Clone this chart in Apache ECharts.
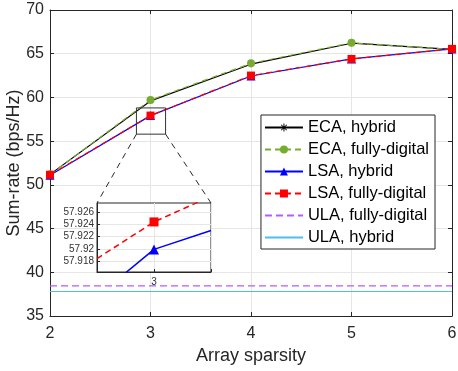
<!DOCTYPE html>
<html>
<head>
<meta charset="utf-8">
<script src="https://cdn.jsdelivr.net/npm/echarts@6/dist/echarts.min.js"></script>
<style>
  html, body { margin: 0; padding: 0; background: #fff; }
  #chart { width: 458px; height: 371px; }
</style>
</head>
<body>
<div id="chart"></div>
<script>
// main plot data
const sparsity = [2, 3, 4, 5, 6];
const ecaHybrid = [51.2, 59.6, 63.8, 66.2, 65.5];
const ecaFully = [51.2, 59.7, 63.9, 66.25, 65.5];
const lsaHybrid = [51.1, 57.92, 62.45, 64.4, 65.55];
const lsaFully = [51.15, 57.924, 62.5, 64.4, 65.55];
const ulaFully = [38.45, 38.45, 38.45, 38.45, 38.45];
const ulaHybrid = [37.8, 37.8, 37.8, 37.8, 37.8];

// inset (zoom around sparsity = 3)
const insetX = [2.999, 3, 3.001];
const insetLsaHybrid = [57.9122, 57.9199, 57.9230];
const insetLsaFully = [57.9184, 57.9244, 57.9286];
const insetTicks = [57.918, 57.92, 57.922, 57.924, 57.926];

// zoom rectangle drawn on main plot (data space)
const zoomBox = { x: [2.86, 3.15], y: [55.8, 58.8] };

const font = 'Liberation Sans';
const txt = '#262626';
const asterisk = 'path://M4.4,0H5.6V3.6L8.1,1.1L8.9,1.9L6.4,4.4H10V5.6H6.4L8.9,8.1L8.1,8.9L5.6,6.4V10H4.4V6.4L1.9,8.9L1.1,8.1L3.6,5.6H0V4.4H3.6L1.1,1.9L1.9,1.1L4.4,3.6Z';

const pairs = (xs, ys) => xs.map((x, i) => [x, ys[i]]);

const chart = echarts.init(document.getElementById('chart'), null, { renderer: 'canvas' });

const insetGrid = { left: 97, top: 203, width: 114, height: 69 };

const option = {
  animation: false,
  textStyle: { fontFamily: font },
  grid: [
    { left: 50, right: 6, top: 10, bottom: 55, show: false, outerBoundsMode: 'none' },
    { left: insetGrid.left, top: insetGrid.top, width: insetGrid.width, height: insetGrid.height,
      show: true, backgroundColor: '#fff', borderColor: '#262626', borderWidth: 1, z: 10, outerBoundsMode: 'none' }
  ],
  xAxis: [
    { type: 'value', gridIndex: 0, min: 2, max: 6, interval: 1,
      name: 'Array sparsity', nameLocation: 'middle', nameGap: 31, nameMoveOverlap: false,
      nameTextStyle: { fontSize: 18, color: txt, fontFamily: font },
      axisLine: { show: true, lineStyle: { color: '#262626' } },
      axisTick: { inside: true, length: 4, lineStyle: { color: '#262626' } },
      axisLabel: { fontSize: 16, color: txt, margin: 10, fontFamily: font },
      splitLine: { show: true, lineStyle: { color: '#e6e6e6' } } },
    { type: 'value', gridIndex: 0, position: 'top', min: 2, max: 6, interval: 1,
      axisLine: { show: true, lineStyle: { color: '#262626' } },
      axisTick: { inside: true, length: 4, lineStyle: { color: '#262626' } },
      axisLabel: { show: false }, splitLine: { show: false } },
    { type: 'value', gridIndex: 1, min: 2.999, max: 3.001, interval: 0.001, z: 10,
      axisLine: { show: true, onZero: false, lineStyle: { color: '#262626' } },
      axisTick: { inside: true, length: 3, lineStyle: { color: '#262626' } },
      axisLabel: { fontSize: 10, color: '#333', margin: 5, fontFamily: font,
        formatter: v => (Math.abs(v - 3) < 1e-9 ? '3' : '') },
      splitLine: { show: true, lineStyle: { color: '#e6e6e6' } } }
  ],
  yAxis: [
    { type: 'value', gridIndex: 0, min: 35, max: 70, interval: 5,
      name: 'Sum-rate (bps/Hz)', nameLocation: 'middle', nameGap: 27, nameMoveOverlap: false,
      nameTextStyle: { fontSize: 18, color: txt, fontFamily: font },
      axisLine: { show: true, lineStyle: { color: '#262626' } },
      axisTick: { inside: true, length: 4, lineStyle: { color: '#262626' } },
      axisLabel: { fontSize: 16, color: txt, margin: 6, fontFamily: font },
      splitLine: { show: true, lineStyle: { color: '#e6e6e6' } } },
    { type: 'value', gridIndex: 0, position: 'right', min: 35, max: 70, interval: 5,
      axisLine: { show: true, lineStyle: { color: '#262626' } },
      axisTick: { inside: true, length: 4, lineStyle: { color: '#262626' } },
      axisLabel: { show: false }, splitLine: { show: false } },
    { type: 'value', gridIndex: 1, min: 57.9162, max: 57.9275, z: 10,
      axisLine: { show: true, onZero: false, lineStyle: { color: '#262626' } },
      axisTick: { inside: true, length: 3, customValues: insetTicks, lineStyle: { color: '#262626' } },
      axisLabel: { fontSize: 10, color: '#333', margin: 3, fontFamily: font,
        customValues: insetTicks, formatter: v => String(+v.toFixed(3)) },
      splitLine: { show: true, lineStyle: { color: '#e6e6e6' } } }
  ],
  legend: {
    orient: 'vertical', right: 23, top: 115,
    backgroundColor: '#fff', borderColor: '#262626', borderWidth: 1,
    padding: [4, 6, 3, 3], itemWidth: 38, itemHeight: 10, itemGap: 5,
    textStyle: { fontSize: 16.5, color: '#000', fontFamily: font },
    z: 20,
    data: ['ECA, hybrid', 'ECA, fully-digital', 'LSA, hybrid', 'LSA, fully-digital', 'ULA, fully-digital', 'ULA, hybrid']
  },
  series: [
    { name: 'ECA, hybrid', type: 'line', xAxisIndex: 0, yAxisIndex: 0,
      data: pairs(sparsity, ecaHybrid), symbol: asterisk, symbolSize: 6,
      color: '#000', lineStyle: { width: 1.2, color: '#000' }, itemStyle: { color: '#000' } },
    { name: 'ECA, fully-digital', type: 'line', xAxisIndex: 0, yAxisIndex: 0,
      data: pairs(sparsity, ecaFully), symbol: 'circle', symbolSize: 8,
      color: '#77ac30', lineStyle: { width: 1.2, type: [6, 4], color: '#77ac30' }, itemStyle: { color: '#77ac30' } },
    { name: 'LSA, hybrid', type: 'line', xAxisIndex: 0, yAxisIndex: 0,
      data: pairs(sparsity, lsaHybrid), symbol: 'triangle', symbolSize: 9,
      color: '#0000ff', lineStyle: { width: 1.2, color: '#0000ff' }, itemStyle: { color: '#0000ff' } },
    { name: 'LSA, fully-digital', type: 'line', xAxisIndex: 0, yAxisIndex: 0,
      data: pairs(sparsity, lsaFully), symbol: 'rect', symbolSize: 8,
      color: '#ff0000', lineStyle: { width: 1.2, type: [6, 4], color: '#ff0000' }, itemStyle: { color: '#ff0000' } },
    { name: 'ULA, fully-digital', type: 'line', xAxisIndex: 0, yAxisIndex: 0,
      data: pairs(sparsity, ulaFully), symbol: 'none', showSymbol: false,
      color: '#b35cff', lineStyle: { width: 1.2, type: [7, 4], color: '#b35cff' }, itemStyle: { opacity: 0 } },
    { name: 'ULA, hybrid', type: 'line', xAxisIndex: 0, yAxisIndex: 0,
      data: pairs(sparsity, ulaHybrid), symbol: 'none', showSymbol: false,
      color: '#4dbeee', lineStyle: { width: 1.2, color: '#4dbeee' }, itemStyle: { opacity: 0 } },
    // inset
    { name: 'inset-lsa-hybrid', type: 'line', xAxisIndex: 2, yAxisIndex: 2, z: 12, clip: true,
      data: pairs(insetX, insetLsaHybrid).map((p, i) => ({ value: p, symbolSize: i === 1 ? 10 : 0 })),
      symbol: 'triangle',
      lineStyle: { width: 1.5, color: '#0000ff' }, itemStyle: { color: '#0000ff' } },
    { name: 'inset-lsa-fully', type: 'line', xAxisIndex: 2, yAxisIndex: 2, z: 12, clip: true,
      data: pairs(insetX, insetLsaFully).map((p, i) => ({ value: p, symbolSize: i === 1 ? 9 : 0 })),
      symbol: 'rect',
      lineStyle: { width: 1.5, type: [6, 4], color: '#ff0000' }, itemStyle: { color: '#ff0000' } }
  ]
};

chart.setOption(option);

// zoom box and connector lines, positioned through the main axes
const bl = chart.convertToPixel({ gridIndex: 0 }, [zoomBox.x[0], zoomBox.y[0]]);
const tr = chart.convertToPixel({ gridIndex: 0 }, [zoomBox.x[1], zoomBox.y[1]]);
const dash = { stroke: '#262626', lineWidth: 1, lineDash: [6, 5] };
chart.setOption({
  graphic: [
    { type: 'rect', z: 30, shape: { x: bl[0], y: tr[1], width: tr[0] - bl[0], height: bl[1] - tr[1] },
      style: { fill: 'none', stroke: '#333', lineWidth: 1 } },
    { type: 'line', z: 30, shape: { x1: bl[0], y1: bl[1], x2: insetGrid.left, y2: insetGrid.top }, style: dash },
    { type: 'line', z: 30, shape: { x1: tr[0], y1: bl[1], x2: insetGrid.left + insetGrid.width, y2: insetGrid.top }, style: dash }
  ]
});
</script>
</body>
</html>
